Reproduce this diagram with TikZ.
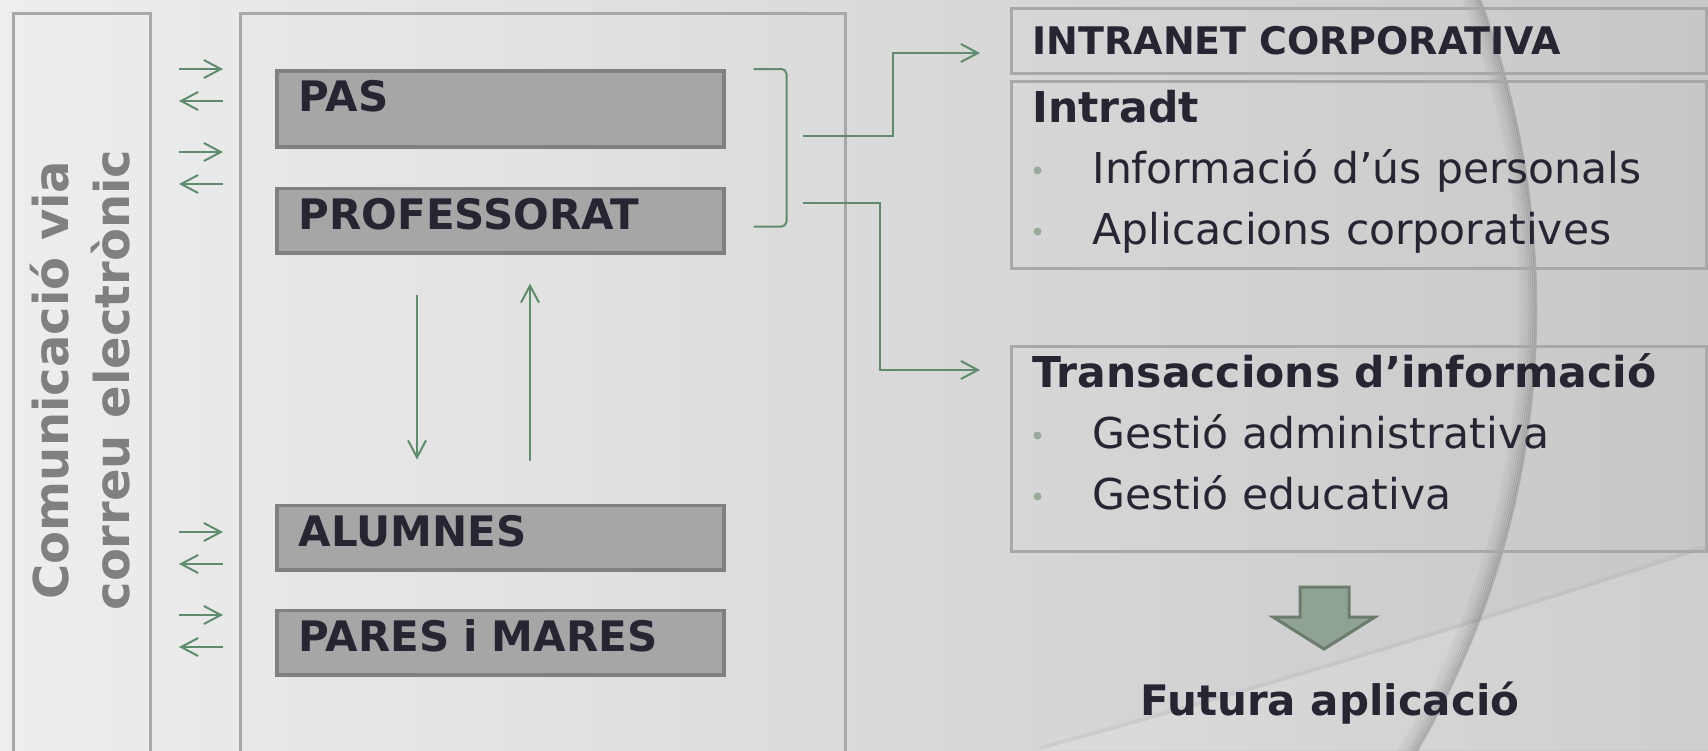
\documentclass[tikz,border=0pt]{standalone}
\usepackage{fontspec}
\setmainfont{DejaVu Sans}
\usetikzlibrary{positioning,calc,arrows.meta}
\definecolor{bgleft}{RGB}{238,238,238}
\definecolor{bgright}{RGB}{199,199,199}
\definecolor{framegray}{RGB}{168,168,168}
\definecolor{roleedge}{RGB}{128,128,128}
\definecolor{rolefill}{RGB}{166,166,166}
\definecolor{flowgreen}{RGB}{95,140,110}
\definecolor{arrowfill}{RGB}{143,162,148}
\definecolor{arrowedge}{RGB}{107,124,109}
\definecolor{dotgreen}{RGB}{152,170,156}
\definecolor{sidegray}{RGB}{128,128,128}
\definecolor{textdark}{RGB}{38,38,51}
\tikzstyle{role}=[rectangle,draw=roleedge,fill=rolefill,line width=3.5pt,anchor=north west,
inner xsep=22pt,inner ysep=0pt,text width=403pt,text height=41pt,text depth=23.5pt,
text=textdark,font=\bfseries\fontsize{42}{50}\selectfont]
\tikzstyle{panel}=[rectangle,draw=framegray,line width=3pt,anchor=north west,align=left,
inner xsep=21pt,inner ysep=0pt,text width=653pt,text=textdark,
font=\fontsize{42.5}{61}\selectfont]
\tikzstyle{outerbox}=[rectangle,draw=framegray,line width=3pt,anchor=north west,minimum height=800pt]
\tikzstyle{flow}=[draw=flowgreen,line width=2pt,-{Straight Barb[length=17pt,width=18pt]}]
\tikzstyle{bracketline}=[draw=flowgreen,line width=2pt,rounded corners=5pt]
\tikzstyle{bigarrow}=[draw=arrowedge,fill=arrowfill,line width=3pt]
\newcommand{\bul}{\makebox[60pt][l]{\hspace{1pt}\raisebox{9pt}{\tikz\fill[dotgreen] (0,0) circle (4pt);}}}

\begin{document}
\begin{tikzpicture}[x=1pt,y=-1pt,node distance=38pt]
            \useasboundingbox (0,0) rectangle (1708,750);
            \clip (0,0) rectangle (1708,750);

            % BACKGROUND PART

            \shade[left color=bgleft,right color=bgright] (0,0) rectangle (1708,750);
            \fill[white,opacity=0.14] (1040,750) .. controls (1260,690) and (1490,620) .. (1708,548) -- (1708,750) -- cycle;
            \draw[black,opacity=0.04,line width=4pt] (1040,748) .. controls (1260,688) and (1490,618) .. (1708,546);
            \foreach \r/\o in {878/0.15,876/0.13,874/0.11,872/0.09,870/0.07,868/0.05,866/0.04,864/0.03,862/0.02}
                \draw[black,opacity=\o,line width=2.5pt] (658,309) circle (\r pt);

            % MAIL PART

            \node[outerbox,minimum width=137pt] (mail) at (12,12) {};
            \node[rotate=90,align=center,text=sidegray,
                  font=\bfseries\fontsize{48}{61}\selectfont] (via) at (80,380) {Comunicació via\\correu electrònic};

            % USERS PART

            \node[outerbox,minimum width=605pt] (users) at (239,12) {};
            \node[role,text depth=35pt] (pas) at (275,69) {PAS};
            \node[role,below=38pt of pas] (prof) {PROFESSORAT};
            \node[role,below=249pt of prof] (alum) {ALUMNES};
            \node[role,below=37pt of alum] (pares) {PARES i MARES};

            \foreach \y [count=\i] in {69,152,532,615} {
                \coordinate (sendA\i) at (179,\y);
                \coordinate (sendB\i) at (223,\y);
                \coordinate (backA\i) at (223,\y+32);
                \coordinate (backB\i) at (179,\y+32);
                \draw[flow] (sendA\i) -- (sendB\i);
                \draw[flow] (backA\i) -- (backB\i);
            }

            \coordinate (downA) at ($(prof.south west)+(142,40)$);
            \coordinate (downB) at ($(alum.north west)+(142,-44)$);
            \coordinate (upA) at ($(alum.north west)+(255,-43)$);
            \coordinate (upB) at ($(prof.south west)+(255,29)$);
            \draw[flow] (downA) -- (downB);
            \draw[flow] (upA) -- (upB);

            \draw[bracketline] ($(pas.north east)+(28,0)$) -- ++(33,0) |- ($(prof.south east)+(28,-28)$);
            \coordinate (outA) at ($(pas.north east)+(77,67)$);
            \coordinate (outB) at ($(prof.south east)+(77,-52)$);

            % INTRANET PART

            \node[panel,font=\bfseries\fontsize{38}{46}\selectfont,
                  text height=46pt,text depth=19pt] (intranet) at (1010,7) {INTRANET CORPORATIVA};
            \node[panel,below=5pt of intranet,text height=41pt,text depth=146pt] (intradt)
                {\textbf{Intradt}\\\bul Informació d’ús personals\\\bul Aplicacions corporatives};
            \node[panel,text height=41pt,text depth=164pt] (trans) at (1010,345)
                {\textbf{Transaccions d’informació}\\\bul Gestió administrativa\\\bul Gestió educativa};

            \coordinate (inA) at ($(intranet.west)+(-30,12)$);
            \coordinate (inB) at ($(trans.north west)+(-30,25)$);
            \draw[flow] (outA) -- ++(90,0) |- (inA);
            \draw[flow] (outB) -- ++(77,0) |- (inB);

            % FUTURE PART

            \node[anchor=base,text=textdark,font=\bfseries\fontsize{42}{50}\selectfont] (futura) at (1330,715) {Futura aplicació};
            \draw[bigarrow] (1300,587) -- (1349,587) -- (1349,617) -- (1375,617) -- (1324,649) -- (1273,617) -- (1300,617) -- cycle;

        \end{tikzpicture}
\end{document}
